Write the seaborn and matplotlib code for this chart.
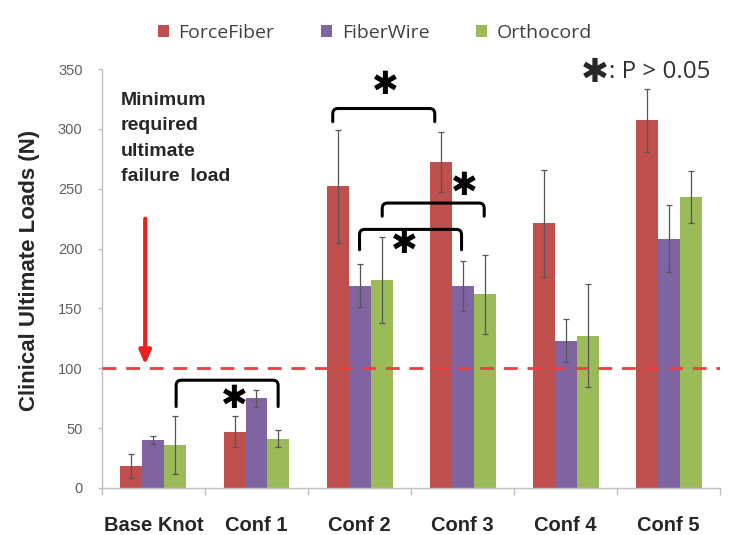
import matplotlib
matplotlib.use("Agg")
import matplotlib.pyplot as plt
import seaborn as sns
import pandas as pd
import numpy as np
from matplotlib.path import Path
from matplotlib.patches import PathPatch, Patch

categories = ["Base Knot", "Conf 1", "Conf 2", "Conf 3", "Conf 4", "Conf 5"]
series = ["ForceFiber", "FiberWire", "Orthocord"]
forcefiber = [18, 47, 252, 272, 221, 307]
fiberwire = [40, 75, 169, 169, 123, 208]
orthocord = [36, 41, 174, 162, 127, 243]
forcefiber_err = [10, 13, 47, 25, 45, 26]
fiberwire_err = [3, 7, 18, 21, 18, 28]
orthocord_err = [24, 7, 36, 33, 43, 22]
min_load = 100
yticks = [0, 50, 100, 150, 200, 250, 300, 350]

colors = ["#c0504d", "#8064a2", "#9bbb59"]

sns.set_style("white")
plt.rcParams["font.family"] = ["Liberation Sans", "DejaVu Sans"]

rows = []
for s, vals in zip(series, [forcefiber, fiberwire, orthocord]):
    for c, v in zip(categories, vals):
        rows.append({"cat": c, "series": s, "value": v})
df = pd.DataFrame(rows)

fig = plt.figure(figsize=(7.44, 5.35), dpi=100)
ax = fig.add_axes([0.137, 0.088, 0.831, 0.783])

sns.barplot(data=df, x="cat", y="value", hue="series", hue_order=series,
            order=categories, palette=colors, width=0.64, errorbar=None,
            saturation=1, linewidth=0, ax=ax, legend=False)

errs = [forcefiber_err, fiberwire_err, orthocord_err]
for cont, vals, er in zip(ax.containers, [forcefiber, fiberwire, orthocord], errs):
    xs = [p.get_x() + p.get_width() / 2 for p in cont.patches]
    ax.errorbar(xs, vals, yerr=er, fmt="none", ecolor="#555555",
                elinewidth=0.9, capsize=2, capthick=0.9, zorder=3)

ax.set_ylim(0, 350)
ax.set_xlim(-0.5, len(categories) - 0.5)
ax.set_yticks(yticks)
ax.set_xlabel("")
ax.set_ylabel("Clinical Ultimate Loads (N)", fontsize=16, fontweight="bold")
ax.yaxis.set_label_coords(-0.100, 0.52)
for sp in ["top", "right"]:
    ax.spines[sp].set_visible(False)
for sp in ["left", "bottom"]:
    ax.spines[sp].set_color("#bfbfbf")
    ax.spines[sp].set_linewidth(1.0)
ax.tick_params(axis="y", labelsize=10.5, colors="#bfbfbf", labelcolor="#606060",
               length=3, width=1, direction="out", left=True, pad=11)
ax.tick_params(axis="x", which="major", length=0, pad=20, labelsize=14.5)
for lab in ax.get_xticklabels():
    lab.set_fontweight("bold")
ax.set_xticks(np.arange(-0.5, len(categories), 1.0), minor=True)
ax.tick_params(axis="x", which="minor", length=5, width=1, colors="#bfbfbf",
               bottom=True)

# minimum required load
ax.axhline(min_load, color="#e8403f", linestyle=(0, (5, 3.5)), linewidth=2, zorder=4)
ax.annotate("", xy=(-0.08, min_load + 3), xytext=(-0.08, 225),
            arrowprops=dict(arrowstyle="-|>,head_length=0.8,head_width=0.35",
                            color="#e8201f", lw=3, shrinkA=0, shrinkB=0))
ax.text(-0.315, 331, "Minimum\nrequired\nultimate\nfailure  load", fontsize=14,
        fontweight="bold", va="top", ha="left", linespacing=1.65)


def bracket(x0, x1, ytop, ybot):
    rx, ry = 0.05, 4.5
    verts = [(x0, ybot), (x0, ytop - ry), (x0, ytop), (x0 + rx, ytop),
             (x1 - rx, ytop), (x1, ytop), (x1, ytop - ry), (x1, ybot)]
    codes = [Path.MOVETO, Path.LINETO, Path.CURVE3, Path.CURVE3,
             Path.LINETO, Path.CURVE3, Path.CURVE3, Path.LINETO]
    ax.add_patch(PathPatch(Path(verts, codes), fill=False, lw=2.2,
                           edgecolor="black", zorder=5, capstyle="round"))


def star(x, y, size=23):
    ax.text(x, y, "\u2731", fontsize=size, ha="center", va="center",
            family="DejaVu Sans", color="black", zorder=6)


bracket(0.22, 1.21, 90, 68)
star(0.79, 74)
bracket(1.74, 2.73, 317, 306)
star(2.25, 336)
bracket(2.0, 2.99, 216, 199)
star(2.44, 203)
bracket(2.22, 3.21, 238, 227)
star(3.02, 252)

# legend
handles = [Patch(facecolor=c, edgecolor="none") for c in colors]
fig.legend(handles, series, loc="center", bbox_to_anchor=(0.504, 0.938), ncol=3,
           frameon=False, prop={"family": "Open Sans", "size": 14},
           handlelength=0.55, handleheight=0.55,
           handletextpad=0.5, columnspacing=2.4, labelcolor="#404040")

# p-value key
fig.text(0.799, 0.865, "\u2731", fontsize=24, family="DejaVu Sans", ha="center",
         va="center")
fig.text(0.818, 0.865, ": P > 0.05", fontsize=17.5, ha="left", va="center",
         color="#303030", family="Open Sans")

fig.savefig("out.png", dpi=100)
